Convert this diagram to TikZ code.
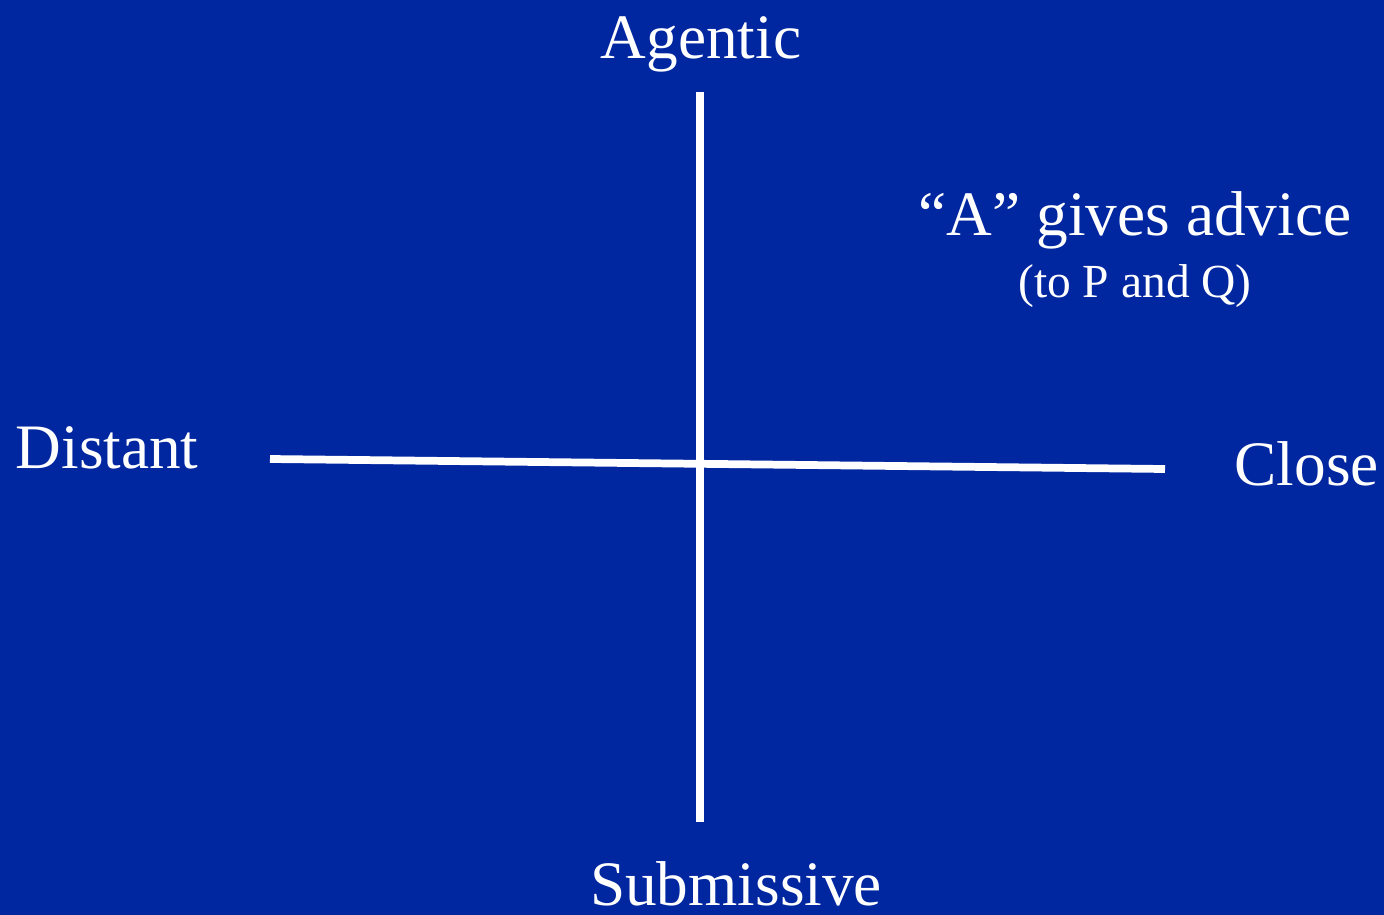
\documentclass[tikz,border=0pt]{standalone}
\usepackage{fontspec}
\setmainfont{Liberation Serif}
\definecolor{slide}{RGB}{0,38,160}
\tikzset{
  axis/.style={draw=white,line width=2.2pt},
  lbl/.style={text=white,inner sep=0pt,font=\fontsize{18}{21}\selectfont},
  sublbl/.style={text=white,inner sep=0pt,font=\fontsize{13.5}{16}\selectfont},
}
\begin{document}
\begin{tikzpicture}[x=0.01cm,y=-0.01cm]
    \fill[slide] (0,0) rectangle (1384,915);
    \useasboundingbox (0,0) rectangle (1384,915);
    % axes
    \coordinate (top) at (700,92);
    \coordinate (bot) at (700,822);
    \coordinate (lft) at (270,459);
    \coordinate (rgt) at (1165,469);
    \draw[axis] (top) -- (bot);
    \draw[axis] (lft) -- (rgt);
    % labels
    \node[lbl,anchor=base] (agentic) at (701,58) {Agentic};
    \node[lbl,anchor=base] (submissive) at (736,905) {Submissive};
    \node[lbl,anchor=base west] (distant) at (15,468) {Distant};
    \node[lbl,anchor=base west] (close) at (1234,485) {Close};
    \node[lbl,anchor=base] (advice) at (1135,235) {``A'' gives advice};
    \node[sublbl,anchor=base] (topq) at (1135,297) {(to P and Q)};
\end{tikzpicture}
\end{document}
